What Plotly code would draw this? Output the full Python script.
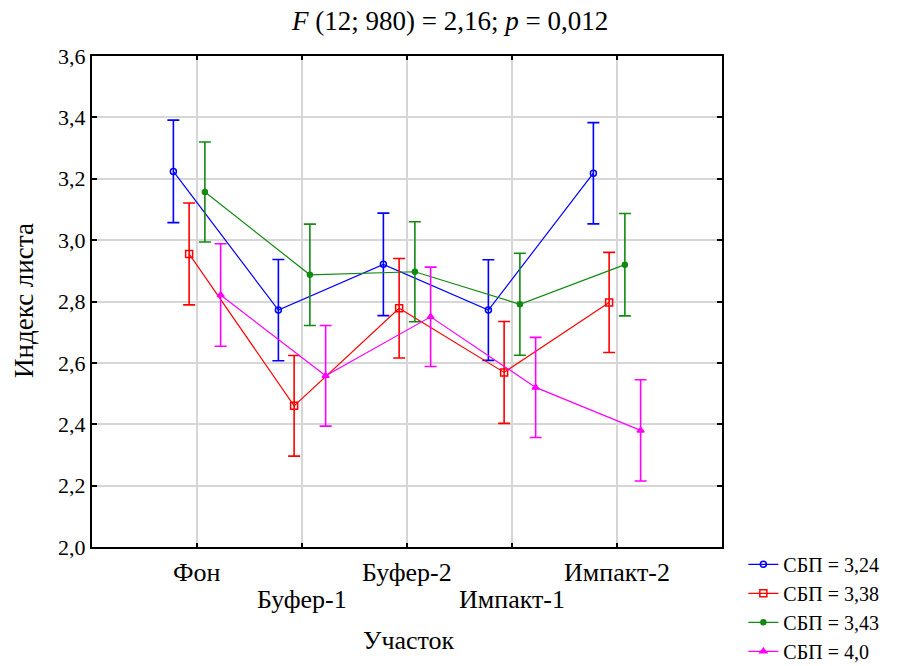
import plotly.graph_objects as go

categories = ["Фон", "Буфер-1", "Буфер-2", "Импакт-1", "Импакт-2"]
series_names = ["СБП = 3,24", "СБП = 3,38", "СБП = 3,43", "СБП = 4,0"]

blue_mean = [3.224, 2.772, 2.921, 2.772, 3.218]
blue_err = [0.167, 0.165, 0.167, 0.164, 0.165]
red_mean = [2.955, 2.460, 2.778, 2.569, 2.797]
red_err = [0.166, 0.164, 0.162, 0.166, 0.163]
green_mean = [3.157, 2.887, 2.897, 2.791, 2.920]
green_err = [0.163, 0.165, 0.163, 0.166, 0.167]
magenta_mean = [2.821, 2.558, 2.750, 2.520, 2.380]
magenta_err = [0.167, 0.164, 0.162, 0.163, 0.165]

y_ticks = [2.0, 2.2, 2.4, 2.6, 2.8, 3.0, 3.2, 3.4, 3.6]

means = [blue_mean, red_mean, green_mean, magenta_mean]
errs = [blue_err, red_err, green_err, magenta_err]
colors = ["#0000ff", "#ff0000", "#138a13", "#ff00ff"]
symbols = ["circle-open", "square-open", "circle", "triangle-up"]
msizes = [6, 7, 5, 6]
offsets = [-0.225, -0.075, 0.075, 0.225]

FONT = "Liberation Serif, Times New Roman, serif"

fig = go.Figure()
idx = list(range(len(categories)))
for name, m, e, c, s, ms, off in zip(series_names, means, errs, colors, symbols, msizes, offsets):
    fig.add_trace(go.Scatter(
        x=[i + off for i in idx], y=m, name=name, mode="lines+markers",
        line=dict(color=c, width=1.2),
        marker=dict(symbol=s, size=ms, color=c, line=dict(color=c, width=1.5)),
        error_y=dict(type="data", array=e, visible=True, color=c, thickness=1.6, width=6),
    ))

fig.update_layout(
    width=920, height=666,
    margin=dict(l=92, r=198, t=56, b=119, autoexpand=False),
    paper_bgcolor="white", plot_bgcolor="white",
    separators=", ",
    font=dict(family=FONT, color="black", size=20),
    showlegend=True,
    legend=dict(xref="container", yref="container", x=0.808, xanchor="left",
                y=0.182, yanchor="top",
                font=dict(family=FONT, size=20, color="black"),
                bgcolor="rgba(0,0,0,0)", tracegroupgap=0, itemwidth=30),
)

fig.update_xaxes(
    range=[-1, 5], tickvals=idx, ticktext=["" for _ in categories],
    showgrid=True, gridcolor="#d6d6d6", gridwidth=1.5,
    showline=True, linecolor="black", linewidth=2, mirror="ticks",
    ticks="inside", ticklen=4, tickcolor="black", tickwidth=1.5,
    zeroline=False,
)
fig.update_yaxes(
    range=[2.0, 3.6], tickvals=y_ticks, tickformat=".1f",
    showgrid=True, gridcolor="#d6d6d6", gridwidth=1.5,
    showline=True, linecolor="black", linewidth=2, mirror="ticks",
    ticks="inside", ticklen=5, tickcolor="black", tickwidth=1.5,
    tickfont=dict(family=FONT, size=22, color="black"),
    zeroline=False,
)

# staggered category labels
for i, cat in enumerate(categories):
    fig.add_annotation(
        x=i, xref="x", y=-0.051 if i % 2 == 0 else -0.106, yref="paper",
        text=cat, showarrow=False, xanchor="center", yanchor="middle",
        font=dict(family=FONT, size=26, color="black"),
    )

fig.add_annotation(x=0.503, xref="paper", y=-0.19, yref="paper", text="Участок",
                   showarrow=False, xanchor="center", yanchor="middle",
                   font=dict(family=FONT, size=26, color="black"))
fig.add_annotation(x=-0.108, xref="paper", y=0.503, yref="paper", text="Индекс листа",
                   textangle=-90, showarrow=False, xanchor="center", yanchor="middle",
                   font=dict(family=FONT, size=27, color="black"))
fig.add_annotation(x=0.567, xref="paper", y=1.072, yref="paper",
                   text="<i>F</i> (12; 980) = 2,16; <i>p</i> = 0,012",
                   showarrow=False, xanchor="center", yanchor="middle",
                   font=dict(family=FONT, size=27, color="black"))

fig.write_html("out.html")
